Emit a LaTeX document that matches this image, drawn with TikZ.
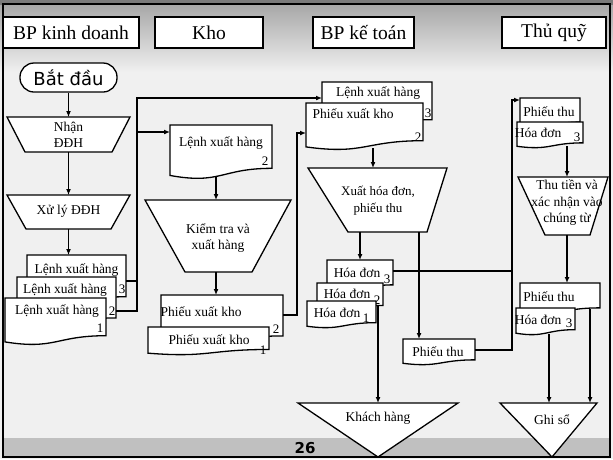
\documentclass[tikz,border=0pt]{standalone}
\usepackage{fontspec}
\setmainfont{Liberation Serif}
\newfontfamily\uisans{DejaVu Sans}
\usetikzlibrary{arrows.meta,calc}

\definecolor{pagebg}{HTML}{F0F0F0}
\definecolor{topshade}{HTML}{A8A8A8}
\definecolor{topband}{HTML}{7A7A7A}
\definecolor{footband}{HTML}{C0C0C0}

\tikzset{
  shapeline/.style={draw=black, line width=1.3pt, fill=white, line join=miter},
  hdr/.style={draw=black, line width=2.4pt, fill=white, inner sep=0pt,
    font=\fontsize{19.5}{20}\selectfont},
  lbl/.style={inner sep=0pt, font=\fontsize{13.5}{16.5}\selectfont, align=center},
  lblsm/.style={inner sep=0pt, font=\fontsize{13}{17}\selectfont, align=center},
  num/.style={inner sep=0pt, font=\fontsize{13}{13}\selectfont},
  conn/.style={draw=black, line width=1.3pt},
  arr/.style={conn, -{Latex[length=6pt,width=5pt]}},
}

% document symbol with a wavy lower edge: name, x1, y1, x2, y2
\newcommand\flowdoc[5]{%
  \pgfmathsetmacro\dA{#3+0.802*(#5-#3)}%
  \pgfmathsetmacro\dB{#3+1.107*(#5-#3)}%
  \pgfmathsetmacro\dC{#3+0.934*(#5-#3)}%
  \pgfmathsetmacro\dM{(#2+#4)/2}%
  \path[shapeline] (#2,#3) -- (#4,#3) -- (#4,\dA)
    .. controls (\dM,\dA) and (\dM,\dB) .. (#2,\dC) -- cycle;
  \coordinate (#1-nw) at (#2,#3);
}
% manual operation (wide top): name, top left x, top right x, top y, bottom left x, bottom right x, bottom y
\newcommand\manop[7]{%
  \path[shapeline] (#2,#4) -- (#3,#4) -- (#6,#7) -- (#5,#7) -- cycle;
  \coordinate (#1-tl) at (#2,#4);
}
% storage triangle: name, left x, right x, top y, apex x, apex y
\newcommand\storetri[6]{%
  \path[shapeline] (#2,#4) -- (#3,#4) -- (#5,#6) -- cycle;
  \coordinate (#1-tl) at (#2,#4);
}

\begin{document}
\begin{tikzpicture}[x=1pt,y=-1pt]
\useasboundingbox (0,0) rectangle (613,459);

% slide background
\fill[pagebg] (0,0) rectangle (613,459);
\shade[top color=topshade, bottom color=pagebg] (0,5) rectangle (613,72);
\fill[topband] (0,0) rectangle (613,5);
\fill[footband] (3,438) rectangle (610,457);
\draw[line width=1.3pt] (3,4) rectangle (610,457);
\node[inner sep=0pt, font=\uisans\bfseries\fontsize{15}{15}\selectfont] (pageno) at (305,448) {26};

% lane headers
\node[hdr, minimum width=136pt, minimum height=31pt] (hKD) at (71,32.5) {BP kinh doanh};
\node[hdr, minimum width=108pt, minimum height=31pt] (hKho) at (209,32.5) {Kho};
\node[hdr, minimum width=101pt, minimum height=31pt] (hKT) at (363.5,32.5) {BP kế toán};
\node[hdr, minimum width=104pt, minimum height=31pt] (hTQ) at (554,32.5) {Thủ quỹ};

% ---------- BP kinh doanh ----------
\node[draw=black, line width=1.3pt, fill=white, rounded corners=14pt,
  minimum width=97pt, minimum height=29pt, inner sep=0pt,
  font=\uisans\fontsize{18}{18}\selectfont] (start) at (68.5,77.5) {Bắt đầu};

\manop{nhan}{7}{130}{117}{25}{112}{152}
\node[lbl] (nhanT) at (68.5,135) {Nhận\\ĐĐH};

\manop{xuly}{7}{130}{195}{26}{111}{229}
\node[lbl] (xulyT) at (68.5,211) {Xử lý ĐĐH};

\flowdoc{kd3}{27}{255}{126}{307}
\node[lbl] (kd3T) at (76.5,270) {Lệnh xuất hàng};
\node[num] (kd3N) at (122,289) {3};
\flowdoc{kd2}{17}{277}{116}{328}
\node[lbl] (kd2T) at (65,290) {Lệnh xuất hàng};
\node[num] (kd2N) at (112,311) {2};
\flowdoc{kd1}{5}{298}{106}{345}
\node[lbl] (kd1T) at (57,311) {Lệnh xuất hàng};
\node[num] (kd1N) at (100,328) {1};

% ---------- Kho ----------
\flowdoc{kh2}{170}{125}{272}{179}
\node[lbl] (kh2T) at (221,143) {Lệnh xuất hàng};
\node[num] (kh2N) at (265,161) {2};

\manop{kiem}{145}{291}{200}{185}{252}{272}
\node[lbl] (kiemT) at (218,238) {Kiểm tra và\\xuất hàng};

\flowdoc{khP2}{161}{295}{283}{346}
\node[lbl] (khP2T) at (201,312) {Phiếu xuất kho};
\node[num] (khP2N) at (276,329) {2};
\flowdoc{khP1}{148}{327}{269}{355}
\node[lbl] (khP1T) at (209,340) {Phiếu xuất kho};
\node[num] (khP1N) at (263,350) {1};

% ---------- BP kế toán ----------
\flowdoc{ktL3}{322}{82}{432}{129}
\node[lbl] (ktL3T) at (378,93) {Lệnh xuất hàng};
\node[num] (ktL3N) at (428,113) {3};
\flowdoc{ktP2}{306}{103}{423}{150}
\node[lbl] (ktP2T) at (353,114) {Phiếu xuất kho};
\node[num] (ktP2N) at (418,137) {2};

\manop{xuat}{308}{447}{168}{348}{427}{232}
\node[lblsm] (xuatT) at (378,201) {Xuất hóa đơn,\\phiếu thu};

\flowdoc{hd3}{327}{260}{393}{291}
\node[lbl] (hd3T) at (357,273) {Hóa đơn};
\node[num] (hd3N) at (387,279) {3};
\flowdoc{hd2}{317}{283}{383}{311}
\node[lbl] (hd2T) at (347,294) {Hóa đơn};
\node[num] (hd2N) at (377,300) {2};
\flowdoc{hd1}{307}{301}{376}{328}
\node[lbl] (hd1T) at (337,313) {Hóa đơn};
\node[num] (hd1N) at (366,318) {1};

\flowdoc{ktPT}{403}{339}{475}{365}
\node[lbl] (ktPTT) at (438,352) {Phiếu thu};

\storetri{kh}{298}{458}{403}{378}{457}
\node[lbl] (khT) at (378,418) {Khách hàng};

% ---------- Thủ quỹ ----------
\flowdoc{tqPT1}{520}{98}{580}{128}
\node[lbl] (tqPT1T) at (549,112) {Phiếu thu};
\flowdoc{tqHD1}{517}{122}{583}{148}
\node[lbl] (tqHD1T) at (538,133) {Hóa đơn};
\node[num] (tqHD1N) at (577,137) {3};

\manop{thu}{518}{608}{177}{545}{590}{235}
\node[lbl] (thuT) at (567,203) {Thu tiền và\\xác nhận vào\\chúng từ};

\flowdoc{tqPT2}{520}{283}{600}{314}
\node[lbl] (tqPT2T) at (549,297) {Phiếu thu};
\flowdoc{tqHD2}{516}{308}{575}{335}
\node[lbl] (tqHD2T) at (538,320) {Hóa đơn};
\node[num] (tqHD2N) at (569,323) {3};

\storetri{gs}{500}{597}{403}{552}{457}
\node[lbl] (gsT) at (552,420) {Ghi sổ};

% ---------- connection points ----------
\coordinate (nhan-n) at (68.5,117);
\coordinate (nhan-s) at (68.5,152);
\coordinate (xuly-n) at (68.5,195);
\coordinate (xuly-s) at (68.5,229);
\coordinate (kd3-n) at (68.5,255);
\coordinate (kd3-e) at (126,281);
\coordinate (kd2-e) at (116,311);
\coordinate (kh2-w) at (170,132);
\coordinate (kh2-s) at (216,176);
\coordinate (kiem-n) at (216,200);
\coordinate (kiem-s) at (216,272);
\coordinate (khP2-n) at (216,295);
\coordinate (khP2-e) at (283,315);
\coordinate (ktL3-w) at (322,98);
\coordinate (ktP2-w) at (306,133);
\coordinate (ktP2-s) at (373,148);
\coordinate (xuat-n) at (373,168);
\coordinate (xuat-s1) at (360,232);
\coordinate (xuat-s2) at (419,232);
\coordinate (hd3-n) at (360,260);
\coordinate (hd3-e) at (393,271);
\coordinate (hd2-s) at (378,305);
\coordinate (ktPT-n) at (419,339);
\coordinate (ktPT-e) at (475,350);
\coordinate (tqPT1-w) at (520,100);
\coordinate (tqHD1-s) at (567,146);
\coordinate (thu-n) at (567,177);
\coordinate (thu-s) at (567,235);
\coordinate (tqPT2-n) at (567,283);
\coordinate (tqHD2-s) at (549,334);
\coordinate (tqPT2-s) at (590,309);
\coordinate (kh-n) at (378,403);
\coordinate (gs-n1) at (549,403);
\coordinate (gs-n2) at (590,403);

% ---------- connectors ----------
\draw[arr] (start.south) -- (nhan-n);
\draw[arr] (nhan-s) -- (xuly-n);
\draw[arr] (xuly-s) -- (kd3-n);
\draw[arr] (kd3-e) -- ++(11,0) |- (ktL3-w);
\draw[arr] (kd2-e) -- ++(21,0) |- (kh2-w);
\draw[arr] (kh2-s) -- (kiem-n);
\draw[arr] (kiem-s) -- (khP2-n);
\draw[arr] (khP2-e) -- ++(14,0) |- (ktP2-w);
\draw[arr] (ktP2-s) -- (xuat-n);
\draw[arr] (xuat-s1) -- (hd3-n);
\draw[arr] (xuat-s2) -- (ktPT-n);
\draw[conn] (hd3-e) -- ++(119,0);
\draw[arr] (ktPT-e) -- ++(37,0) |- (tqPT1-w);
\draw[arr] (hd2-s) -- (kh-n);
\draw[arr] (tqHD1-s) -- (thu-n);
\draw[arr] (thu-s) -- (tqPT2-n);
\draw[arr] (tqHD2-s) -- (gs-n1);
\draw[arr] (tqPT2-s) -- (gs-n2);

\end{tikzpicture}
\end{document}
